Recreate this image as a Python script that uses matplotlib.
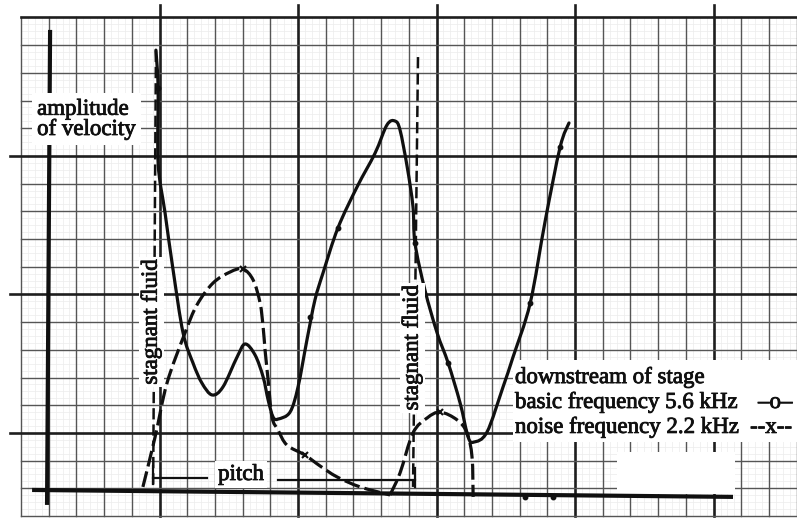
import numpy as np
import matplotlib
matplotlib.use("Agg")
import matplotlib.pyplot as plt
from matplotlib.patches import Rectangle, PathPatch
from matplotlib.path import Path
import matplotlib.patheffects as pe

# ---- data (graph-paper grid units: 1 unit = one printed grid cell) ----
# basic frequency 5.6 kHz (solid curve)
basic_x = [4.87, 4.95, 4.95, 5.20, 5.49, 5.85, 6.21, 6.53, 6.90, 7.29, 7.80, 8.09,
           8.45, 8.74, 8.92, 9.10, 9.28, 9.71, 10.00, 10.32, 10.61, 10.90, 11.44,
           12.13, 12.78, 13.21, 13.50, 13.68, 13.94, 14.15, 14.22, 14.58, 15.02,
           15.42, 15.85, 16.14, 16.35, 16.82, 17.40, 17.76, 18.38, 18.92, 19.46, 19.78]
basic_y = [16.82, 15.45, 12.74, 10.94, 8.88, 6.61, 5.52, 4.80, 4.37, 4.66, 5.74, 6.21,
           5.81, 5.02, 4.19, 3.57, 3.50, 3.75, 4.66, 6.35, 7.80, 8.77, 10.40,
           11.88, 13.10, 14.12, 14.26, 13.94, 12.60, 11.16, 9.86, 8.16, 6.61,
           5.52, 4.08, 2.85, 2.67, 3.03, 4.66, 5.74, 7.69, 10.65, 13.32, 14.19]
basic_mark_x = [4.95, 10.43, 11.44, 14.22, 15.42, 18.38, 19.46, 18.19, 19.21]
basic_mark_y = [15.45, 7.20, 10.40, 9.86, 5.52, 7.69, 13.32, 0.69, 0.69]

# noise frequency 2.2 kHz (dashed curve)
noise_x = [4.40, 4.84, 5.27, 5.92, 6.35, 6.93, 7.55, 8.01, 8.38, 8.63, 8.74, 8.81,
           8.92, 9.06, 9.28, 9.60, 10.25, 10.79, 11.41, 12.24, 13.32,
           13.68, 14.15, 14.66, 15.13, 15.74, 16.10, 16.28, 16.32]
noise_y = [1.05, 2.85, 4.80, 6.61, 7.62, 8.41, 8.81, 8.92, 8.52, 7.69, 6.82, 5.99,
           4.91, 3.57, 3.10, 2.56, 2.20, 1.81, 1.41, 1.05, 0.76,
           1.55, 3.00, 3.54, 3.75, 3.47, 3.00, 2.13, 0.69]
noise_mark_x = [8.01, 10.25, 15.13]
noise_mark_y = [8.92, 2.20, 3.75]

# drawn chart axes and annotation lines
yaxis_x = [1.05, 0.94]
yaxis_y = [17.55, 0.40]
xaxis_x = [0.40, 25.70]
xaxis_y = [0.94, 0.69]
stag_left_x = [4.87, 4.77]
stag_left_y = [16.80, 1.10]
stag_right_x = [14.33, 14.15]
stag_right_y = [16.57, 1.05]
pitch_left_x = [4.77, 6.71]
pitch_left_y = [1.37, 1.37]
pitch_right_x = [9.28, 14.22]
pitch_right_y = [1.30, 1.30]

ylabel_text = "amplitude\nof velocity"
stagnant_text = "stagnant fluid"
pitch_text = "pitch"
legend_lines = ["downstream of stage",
                "basic frequency 5.6 kHz",
                "noise frequency 2.2 kHz"]
legend_symbols = ["", "\u2013o\u2013", "--x--"]


def smooth_path(xs, ys):
    """Cubic Bezier path passing through every given point (Catmull-Rom)."""
    p = np.column_stack([xs, ys]).astype(float)
    ext = np.vstack([p[0], p, p[-1]])
    verts = [p[0]]
    codes = [Path.MOVETO]
    for i in range(1, len(ext) - 2):
        p0, p1, p2, p3 = ext[i - 1], ext[i], ext[i + 1], ext[i + 2]
        verts += [p1 + (p2 - p0) / 6.0, p2 - (p3 - p1) / 6.0, p2]
        codes += [Path.CURVE4] * 3
    return Path(verts, codes)


# ---- figure ----
fig = plt.figure(figsize=(7.97, 5.25), dpi=100)
ax = fig.add_axes([0, 0, 1, 1])
ax.set_xlim(-0.758, 28.01)
ax.set_ylim(-0.325, 18.63)
ax.axis("off")

serif = ["Liberation Serif", "DejaVu Serif"]
ink = "#101010"
thick = [pe.withStroke(linewidth=0.6, foreground=ink)]

# graph paper
for v in np.arange(0, 28.01, 0.25):
    if abs(v - round(v)) > 1e-6:
        ax.plot([v, v], [0, 18], color="#ececec", lw=0.5, zorder=1)
for v in np.arange(0, 18.01, 0.25):
    if abs(v - round(v)) > 1e-6:
        ax.plot([0, 28.01], [v, v], color="#ececec", lw=0.5, zorder=1)
for v in range(0, 29):
    bold = v % 5 == 0 and v > 0
    top = 18.45 if bold else 18
    ax.plot([v, v], [0, top], color="#1e1e1e" if bold else "#555555",
            lw=1.9 if bold else 1.0, zorder=2)
for v in range(0, 19):
    bold = (v - 3) % 5 == 0
    left = -0.40 if (bold and v < 18) else 0
    ax.plot([left, 28.01], [v, v], color="#1e1e1e" if bold else "#555555",
            lw=1.9 if bold else 1.0, zorder=2)

# white patches (pasted labels on the scan)
ax.add_patch(Rectangle((17.76, 2.67), 10.3, 2.96, facecolor="white",
                       edgecolor="none", zorder=3))
ax.add_patch(Rectangle((21.52, 0.79), 4.26, 1.52, facecolor="white",
                       edgecolor="none", zorder=3))

# chart axes
ax.plot(yaxis_x, yaxis_y, color=ink, lw=3.0, solid_capstyle="butt", zorder=5)
ax.plot(xaxis_x, xaxis_y, color=ink, lw=3.0, solid_capstyle="butt", zorder=5)

# stagnant-fluid boundaries
ax.plot(stag_left_x, stag_left_y, color=ink, lw=1.8, ls=(0, (4.5, 2.0)), zorder=4)
ax.plot(stag_right_x, stag_right_y, color=ink, lw=1.8, ls=(0, (4.5, 2.0)), zorder=4)

# pitch arrow
ax.plot(pitch_left_x, pitch_left_y, color=ink, lw=1.6, zorder=4)
ax.plot(pitch_right_x, pitch_right_y, color=ink, lw=1.6, zorder=4)
ax.plot([pitch_left_x[0]] * 2, [pitch_left_y[0] - 0.2, pitch_left_y[0] + 0.45],
        color=ink, lw=1.6, zorder=4)
ax.plot([pitch_right_x[1]] * 2, [pitch_right_y[1] - 0.25, pitch_right_y[1] + 0.43],
        color=ink, lw=1.6, zorder=4)

# curves
ax.add_patch(PathPatch(smooth_path(basic_x, basic_y), fill=False, edgecolor=ink,
                       lw=2.3, joinstyle="round", capstyle="round", zorder=6))
ax.plot(basic_mark_x, basic_mark_y, ls="none", marker="o", ms=3.2,
        mfc=ink, mec=ink, zorder=7)
split = noise_y.index(min(noise_y[:24]))
for xs, ys in ((noise_x[:split + 1], noise_y[:split + 1]),
               (noise_x[split:], noise_y[split:])):
    ax.add_patch(PathPatch(smooth_path(xs, ys), fill=False, edgecolor=ink, lw=2.3,
                           ls=(0, (5, 1.6)), zorder=6))
ax.plot(noise_mark_x, noise_mark_y, ls="none", marker="x", ms=4,
        mec=ink, mew=1.5, zorder=7)

# texts
ax.text(0.58, 14.32, ylabel_text, ha="left", va="center", family=serif,
        fontsize=16.5, color=ink, linespacing=0.95, zorder=8, path_effects=thick,
        bbox=dict(facecolor="white", edgecolor="none", pad=4))
ax.text(4.70, 7.0, stagnant_text, rotation=90, ha="center", va="center",
        family=serif, fontsize=16.5, color=ink, zorder=8, path_effects=thick,
        bbox=dict(facecolor="white", edgecolor="none", pad=1.5))
ax.text(14.12, 6.07, stagnant_text, rotation=90, ha="center", va="center",
        family=serif, fontsize=16.5, color=ink, zorder=8, path_effects=thick,
        bbox=dict(facecolor="white", edgecolor="none", pad=1.5))
ax.text(7.94, 1.30, pitch_text, ha="center", va="baseline", family=serif,
        fontsize=16.5, color=ink, zorder=8, path_effects=thick,
        bbox=dict(facecolor="white", edgecolor="none", pad=2))

legend_y = [4.80, 3.90, 3.00]
for line, sym, yy in zip(legend_lines, legend_symbols, legend_y):
    ax.text(17.83, yy, line, ha="left", va="baseline", family=serif,
            fontsize=16.5, color=ink, zorder=8, path_effects=thick)
    if sym:
        ax.text(27.85, yy, sym, ha="right", va="baseline", family=serif,
                fontsize=16.5, color=ink, zorder=8, path_effects=thick)

fig.savefig("out.png", dpi=100, facecolor="white")
